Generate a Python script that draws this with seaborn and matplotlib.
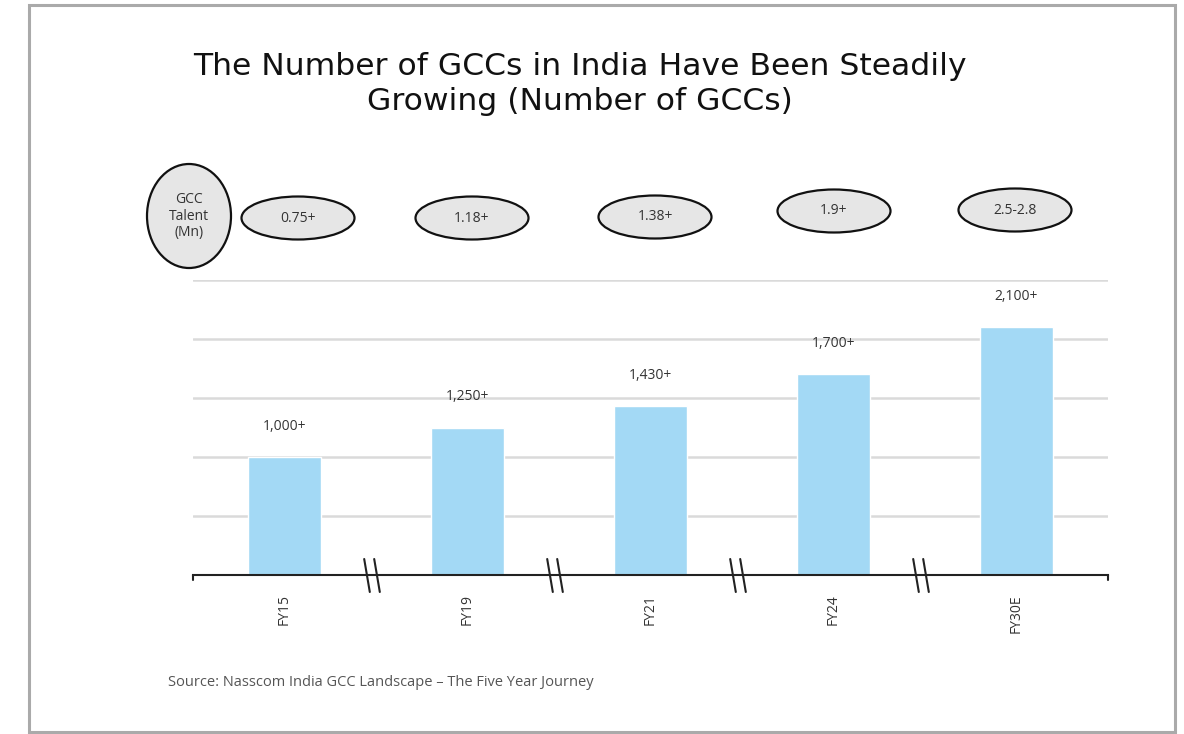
import matplotlib
matplotlib.use("Agg")
import matplotlib.pyplot as plt
import seaborn as sns
import pandas as pd
from matplotlib.patches import Ellipse, Rectangle

categories = ["FY15", "FY19", "FY21", "FY24", "FY30E"]
gcc_counts = [1000, 1250, 1430, 1700, 2100]
count_labels = ["1,000+", "1,250+", "1,430+", "1,700+", "2,100+"]
talent_labels = ["0.75+", "1.18+", "1.38+", "1.9+", "2.5-2.8"]
talent_header = "GCC\nTalent\n(Mn)"
title_text = "The Number of GCCs in India Have Been Steadily\nGrowing (Number of GCCs)"
source_text = "Source: Nasscom India GCC Landscape \u2013 The Five Year Journey"
y_ticks = [0, 500, 1000, 1500, 2000, 2500]

W, H = 1184, 734
sns.set_theme(style="white")
plt.rcParams["font.family"] = ["Open Sans", "DejaVu Sans"]

fig = plt.figure(figsize=(W / 100, H / 100), dpi=100)
fig.patch.set_facecolor("white")

# overlay in pixel coordinates
ov = fig.add_axes([0, 0, 1, 1], zorder=0)
ov.set_xlim(0, W)
ov.set_ylim(H, 0)
ov.axis("off")

ax = fig.add_axes([193 / W, 1 - 575 / H, (1108 - 193) / W, (575 - 280) / H], zorder=2)
ax.patch.set_alpha(0)

df = pd.DataFrame({"cat": categories, "val": gcc_counts})
sns.barplot(data=df, x="cat", y="val", color="#a3d9f5", width=0.404, saturation=1,
            ax=ax, zorder=3)
ax.set_xlim(-0.5, 4.5)
ax.set_ylim(0, 2500)
ax.set_yticks(y_ticks)
ax.yaxis.grid(True, color="#dadada", linewidth=1.8)
ax.set_axisbelow(True)
ax.tick_params(axis="y", left=False, labelleft=False)
ax.tick_params(axis="x", bottom=False, pad=8, labelsize=10, labelcolor="#333333")
for lab in ax.get_xticklabels():
    lab.set_rotation(90)
    lab.set_va("top")
ax.set_xlabel("")
ax.set_ylabel("")
for s in ["top", "right", "left"]:
    ax.spines[s].set_visible(False)
ax.spines["bottom"].set_color("#222222")
ax.spines["bottom"].set_linewidth(1.5)
ax.spines["bottom"].set_zorder(4)

px = 2500 / 295.0  # data units per pixel
for i, (v, lab) in enumerate(zip(gcc_counts, count_labels)):
    ax.text(i, v + 31 * px, lab, ha="center", va="center", fontsize=10, color="#333333")

# end ticks
for xe in (-0.5, 4.5):
    ax.plot([xe, xe], [0, -5 * px], color="#222222", lw=1.5, clip_on=False, zorder=4)

# axis break marks
dx = 2.8 / 183.0
for i in range(len(categories) - 1):
    xc = i + 0.5 - 4 / 183.0
    for off in (-5 / 183.0, 5 / 183.0):
        ax.plot([xc + off - dx, xc + off + dx], [16 * px, -17 * px], color="#222222",
                lw=1.5, clip_on=False, zorder=5)

# frame
ov.add_patch(Rectangle((29, 5), 1146, 727, fill=False, edgecolor="#aaaaaa", lw=2.2))

# title
ov.text(580, 84, title_text, ha="center", va="center", fontsize=22.6, color="#111111",
        linespacing=1.22, family=["DejaVu Sans"])

# talent ellipses
ov.add_patch(Ellipse((189, 216), 84, 104, facecolor="#e6e6e6", edgecolor="#111111", lw=1.6))
ov.text(189, 216, talent_header, ha="center", va="center", fontsize=10, color="#333333",
        linespacing=1.15)
ell_pos = [(298, 218), (472, 218), (655, 217), (834, 211), (1015, 210)]
for (cx, cy), lab in zip(ell_pos, talent_labels):
    ov.add_patch(Ellipse((cx, cy), 113, 43, facecolor="#e6e6e6", edgecolor="#111111", lw=1.6))
    ov.text(cx, cy, lab, ha="center", va="center", fontsize=10, color="#333333")

ov.text(168, 683, source_text, ha="left", va="center", fontsize=10.5, color="#555555")

fig.savefig("out.png", dpi=100, facecolor="white")
